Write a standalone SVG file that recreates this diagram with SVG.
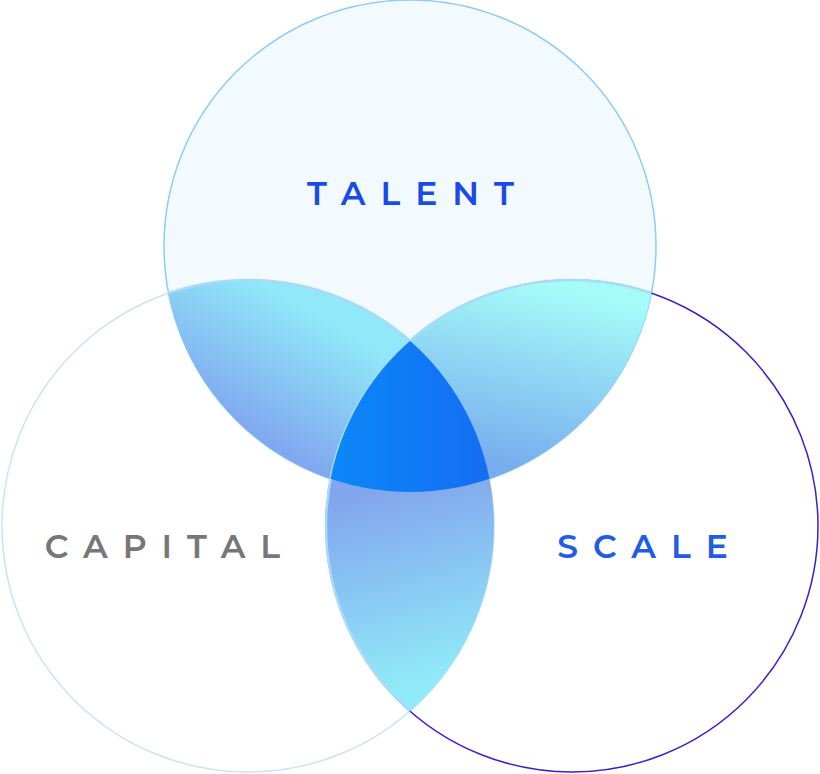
<svg xmlns="http://www.w3.org/2000/svg" width="820" height="774" viewBox="0 0 820 774">
<style>
.lbl{font-family:"Montserrat","Liberation Sans",Arial,sans-serif;font-size:33px;font-weight:600;letter-spacing:15px;text-anchor:middle}
.lens{stroke:#a6dcf6;stroke-width:2.5}
</style>
<defs>
<clipPath id="cT"><circle cx="410" cy="246" r="246"/></clipPath>
<clipPath id="cL"><circle cx="248" cy="526" r="246"/></clipPath>
<linearGradient id="gTL" gradientUnits="userSpaceOnUse" x1="290" y1="300" x2="220" y2="420"><stop offset="0" stop-color="#90e8f8"/><stop offset="1" stop-color="#80a6ef"/></linearGradient>
<linearGradient id="gTR" gradientUnits="userSpaceOnUse" x1="560" y1="290" x2="520" y2="470"><stop offset="0" stop-color="#a4fbf8"/><stop offset="1" stop-color="#78acee"/></linearGradient>
<linearGradient id="gB" gradientUnits="userSpaceOnUse" x1="380" y1="490" x2="430" y2="680"><stop offset="0" stop-color="#82a6ee"/><stop offset="1" stop-color="#90eaf8"/></linearGradient>
<linearGradient id="gC" x1="0" y1="0" x2="1" y2="0"><stop offset="0" stop-color="#0a88f8"/><stop offset="1" stop-color="#2a38e6"/></linearGradient>
</defs>
<g id="circle-talent"><circle cx="410" cy="246" r="246" fill="#f3fafe" stroke="#8ccdf5" stroke-width="1.5"/></g>
<g id="circle-capital"><circle cx="248" cy="526" r="246" fill="none" stroke="#c8e4f6" stroke-width="1.5"/></g>
<g id="circle-scale"><circle cx="572" cy="526" r="246" fill="none" stroke="#3a1fd0" stroke-width="1.5"/></g>
<g id="lens-talent-capital"><g clip-path="url(#cT)"><circle class="lens" cx="248" cy="526" r="246" fill="url(#gTL)"/></g></g>
<g id="lens-talent-scale"><g clip-path="url(#cT)"><circle class="lens" cx="572" cy="526" r="246" fill="url(#gTR)"/></g></g>
<g id="lens-capital-scale"><g clip-path="url(#cL)"><circle class="lens" cx="572" cy="526" r="246" fill="url(#gB)"/></g></g>
<g id="center"><g clip-path="url(#cT)"><g clip-path="url(#cL)"><circle cx="572" cy="526" r="246" fill="url(#gC)"/></g></g></g>
<g id="connectors"></g>
<g id="label-talent"><text class="lbl" x="418" y="205" fill="#1a4be8">TALENT</text></g>
<g id="label-capital"><text class="lbl" x="170" y="558" fill="#777777">CAPITAL</text></g>
<g id="label-scale"><text class="lbl" x="650" y="558" fill="#1f5ce8">SCALE</text></g>
</svg>
